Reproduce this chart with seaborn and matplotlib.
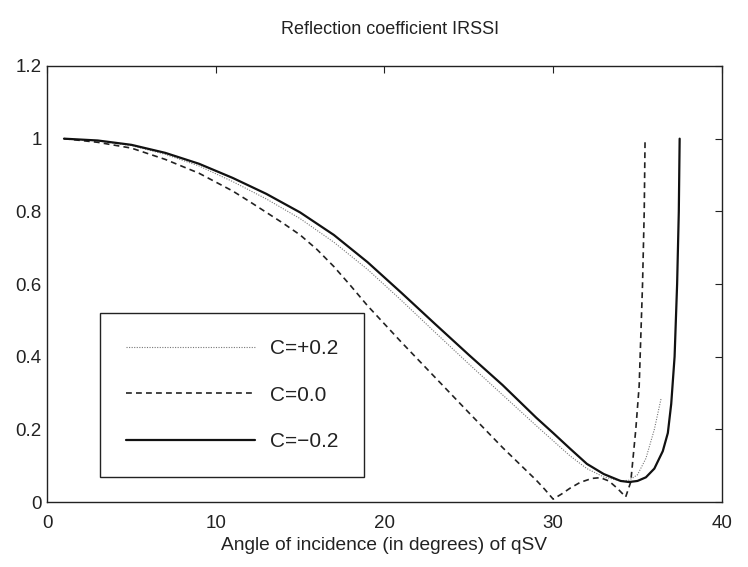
import numpy as np
import pandas as pd
import seaborn as sns
import matplotlib
matplotlib.use("Agg")
import matplotlib.pyplot as plt
from matplotlib.ticker import FuncFormatter, FixedLocator

# ---- data ----
title = "Reflection coefficient IRSSI"
xlabel = "Angle of incidence (in degrees) of qSV"
labels = ["C=+0.2", "C=0.0", "C=\u22120.2"]

x_pos = [1, 3, 5, 7, 9, 11, 13, 15, 17, 19, 21, 23, 25, 27, 29, 31, 32, 33, 34,
         34.5, 35, 35.5, 36, 36.4]
y_pos = [1.0, 0.994, 0.981, 0.957, 0.925, 0.882, 0.834, 0.78, 0.715, 0.64, 0.555,
         0.467, 0.38, 0.295, 0.21, 0.127, 0.092, 0.069, 0.058, 0.06, 0.075,
         0.12, 0.2, 0.285]

x_zero = [1, 3, 5, 7, 9, 11, 12, 13, 14, 15, 16, 17, 18, 19, 20, 21, 23, 25, 27,
          28, 29, 29.5, 30, 30.5, 31, 31.6, 32.3, 32.8, 33.3, 33.8, 34.3, 34.6,
          34.9, 35.1, 35.3, 35.4, 35.45]
y_zero = [1.0, 0.99, 0.974, 0.943, 0.905, 0.856, 0.827, 0.797, 0.767, 0.735, 0.695,
          0.648, 0.595, 0.54, 0.49, 0.44, 0.343, 0.246, 0.15, 0.105, 0.06, 0.035,
          0.008, 0.022, 0.038, 0.054, 0.065, 0.067, 0.058, 0.038, 0.014, 0.055,
          0.2, 0.32, 0.6, 0.8, 1.0]

x_neg = [1, 3, 5, 7, 9, 11, 13, 15, 17, 19, 21, 23, 25, 27, 29, 30, 31, 32, 33, 34,
         34.5, 35, 35.5, 36, 36.5, 36.8, 37.0, 37.2, 37.35, 37.45, 37.5]
y_neg = [1.0, 0.995, 0.983, 0.961, 0.931, 0.892, 0.848, 0.797, 0.735, 0.66, 0.576,
         0.49, 0.405, 0.322, 0.232, 0.19, 0.147, 0.105, 0.077, 0.058, 0.055, 0.058,
         0.068, 0.092, 0.14, 0.19, 0.27, 0.4, 0.6, 0.8, 1.0]

xticks = [0, 10, 20, 30, 40]
yticks = [0, 0.2, 0.4, 0.6, 0.8, 1.0, 1.2]

# ---- plot ----
sns.set_theme(style="white")
plt.rcParams["font.family"] = ["Liberation Sans", "DejaVu Sans"]
plt.rcParams["axes.unicode_minus"] = True

fig = plt.figure(figsize=(7.48, 5.67), dpi=100)
ax = fig.add_axes([0.063, 0.1146, 0.902, 0.769])

sns.lineplot(x=x_pos, y=y_pos, ax=ax, color="#777777", linewidth=0.8,
             linestyle=(0, (1, 1.3)), label=labels[0], sort=False)
sns.lineplot(x=x_zero, y=y_zero, ax=ax, color="#222222", linewidth=1.2,
             linestyle=(0, (3.5, 2.5)), label=labels[1], sort=False)
sns.lineplot(x=x_neg, y=y_neg, ax=ax, color="#111111", linewidth=1.6,
             linestyle="-", label=labels[2], sort=False)

ax.set_xlim(0, 40)
ax.set_ylim(0, 1.2)
ax.xaxis.set_major_locator(FixedLocator(xticks))
ax.yaxis.set_major_locator(FixedLocator(yticks))
fmt = FuncFormatter(lambda v, p: "%g" % round(v, 3))
ax.xaxis.set_major_formatter(fmt)
ax.yaxis.set_major_formatter(fmt)
ax.tick_params(direction="in", length=5, width=0.8, colors="#222222",
               labelsize=13.5, top=True, right=True, pad=4)
ax.tick_params(axis="x", pad=9)
for s in ax.spines.values():
    s.set_visible(True)
    s.set_color("#222222")
    s.set_linewidth(1.0)

ax.set_xlabel(xlabel, fontsize=13.8, color="#222222", labelpad=4)
ax.set_ylabel("")
fig.text(0.522, 0.948, title, ha="center", va="center", fontsize=13,
         color="#222222")

leg = ax.legend(loc="upper left", bbox_to_anchor=(0.0785, 0.433),
                frameon=True, fancybox=False, framealpha=1,
                edgecolor="#222222", fontsize=15, handlelength=6.2,
                handletextpad=0.7, labelspacing=1.32, borderpad=1.25,
                borderaxespad=0)
leg.get_frame().set_linewidth(1.0)
for t in leg.get_texts():
    t.set_color("#222222")

fig.savefig("out.png", dpi=100)
